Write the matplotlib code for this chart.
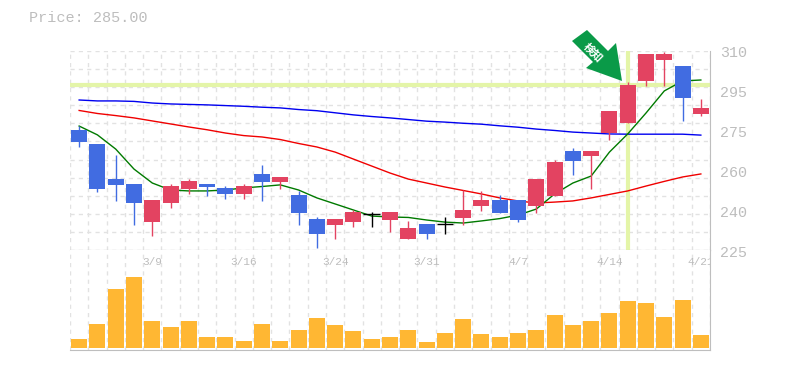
import matplotlib
matplotlib.use('Agg')
import matplotlib.pyplot as plt
from matplotlib.patches import Polygon

# valori
opens = [276.5, 270.5, 255.4, 253.3, 236.9, 245.1, 251.1, 253.3, 251.6, 249.0, 257.6, 254.1, 248.5,
         238.2, 235.7, 236.9, 240.3, 237.8, 229.6, 236.1, 236.0, 238.7, 243.8, 246.4, 246.4,
         243.8, 248.1, 267.5, 265.3, 275.2, 279.5, 297.6, 306.6, 304.0, 283.4]
closes = [271.3, 251.1, 252.9, 245.1, 246.4, 252.4, 254.6, 252.0, 249.0, 252.4, 254.1, 256.3, 240.8,
          231.8, 238.2, 241.2, 240.3, 241.2, 234.4, 231.8, 236.0, 242.1, 246.4, 240.8, 237.8,
          255.4, 262.7, 263.2, 267.5, 284.7, 295.9, 309.2, 309.2, 290.3, 286.0]
highs = [278.2, 270.5, 265.8, 253.3, 246.4, 253.3, 255.4, 253.3, 252.4, 253.3, 261.4, 256.3, 250.3,
         239.1, 238.2, 242.1, 241.2, 241.2, 237.4, 236.1, 239.1, 250.7, 250.3, 248.5, 246.4,
         255.4, 263.6, 268.8, 267.5, 284.7, 297.1, 309.2, 310.0, 304.0, 289.8]
lows = [269.2, 249.8, 246.0, 235.7, 230.9, 243.0, 249.0, 248.1, 246.8, 246.8, 246.0, 251.1, 235.7,
        225.8, 229.6, 234.8, 234.8, 232.6, 229.6, 229.6, 231.8, 235.7, 241.7, 240.8, 236.9,
        240.8, 248.1, 257.2, 251.1, 272.2, 279.5, 295.4, 295.4, 280.4, 282.5]

ma_short = [278.2, 274.4, 268.3, 259.7, 253.7, 250.7, 250.3, 250.3, 250.7, 251.6, 252.2, 252.9, 250.7,
            247.3, 244.7, 242.1, 239.5, 239.1, 238.9, 237.8, 236.9, 236.5, 237.4, 238.4, 239.9,
            242.5, 249.0, 253.7, 256.7, 267.0, 274.8, 283.8, 293.3, 297.6, 298.0]
ma_mid = [284.9, 283.6, 282.7, 281.7, 280.4, 279.1, 277.8, 276.6, 275.2, 274.1, 273.5, 272.4, 270.7,
          269.2, 267.0, 264.0, 261.0, 258.0, 255.4, 253.7, 252.0, 250.5, 249.0, 247.3, 246.0,
          245.1, 245.5, 246.0, 247.3, 248.8, 250.3, 252.4, 254.4, 256.3, 257.6]
ma_long = [289.4, 289.0, 289.0, 288.8, 288.1, 287.7, 287.5, 287.3, 287.0, 286.7, 286.3, 286.0, 285.3,
           284.8, 283.9, 283.0, 282.3, 281.7, 281.0, 280.3, 279.9, 279.4, 279.0, 278.3, 277.7,
           276.9, 276.3, 275.6, 275.2, 274.8, 274.7, 274.7, 274.7, 274.7, 274.3]
volumes = [9, 24, 59, 71, 27, 21, 27, 11, 11, 7, 24, 7, 18, 30, 23, 17, 9, 11, 18, 6, 15, 29, 14, 11, 15,
           18, 33, 23, 27, 35, 47, 45, 31, 48, 13]

date_pos = [4, 9, 14, 19, 24, 29, 34]
date_labels = ['3/9', '3/16', '3/24', '3/31', '4/7', '4/14', '4/21']
price_ticks = [310.5, 293.3, 276.1, 258.9, 241.7, 224.5]
price_labels = ['310', '295', '275', '260', '240', '225']
signal_price = 295.85
signal_index = 30
last_price = 285.00

UP = '#E34361'
DOWN = '#416CE1'
GRID = '#E2E2E2'
FRAME = '#BEBEBE'
TEXT = '#BDBDBD'
PALE = '#E4F5A8'
W, H = 785, 370

plt.rcParams['font.family'] = ['Liberation Mono', 'DejaVu Sans Mono']
fig = plt.figure(figsize=(W / 100, H / 100), dpi=100)
ax = fig.add_axes([70 / W, 1 - 250 / H, 640 / W, 199 / H])
ax_vol = fig.add_axes([70 / W, 1 - 350 / H, 640 / W, 100 / H])

for a in (ax, ax_vol):
    a.set_xlim(-0.5, 34.5)
    a.set_xticks([i + 0.5 for i in range(-1, 35)])
    a.tick_params(length=0, labelbottom=False, labelleft=False)
    a.grid(True, axis='x', color=GRID, linestyle=(0, (3, 3)), linewidth=1)
    a.set_axisbelow(True)
    a.spines['left'].set_visible(False)
    a.spines['top'].set_visible(False)
    a.spines['right'].set_color(FRAME)
    a.spines['bottom'].set_color(FRAME)

ax.set_ylim(224.9, 310.47)
ax.set_yticks([224.9 + 85.57 * k / 11 for k in range(12)])
ax.grid(True, axis='y', color=GRID, linestyle=(0, (3, 3)), linewidth=1)

# righe del segnale
ax.axhline(signal_price, color=PALE, linewidth=3, zorder=1)
ax.axvline(signal_index, color=PALE, linewidth=3, zorder=1)

# medie mobili
x = list(range(len(closes)))
ax.plot(x, ma_long, color='#0000F0', linewidth=1, zorder=2)
ax.plot(x, ma_mid, color='#F00000', linewidth=1, zorder=2)
ax.plot(x, ma_short, color='#007A00', linewidth=1, zorder=2)

# candele
for i in x:
    if opens[i] == closes[i]:
        color = 'black'
    elif closes[i] > opens[i]:
        color = UP
    else:
        color = DOWN
    ax.vlines(i, lows[i], highs[i], color=color, linewidth=1, zorder=3)
    if color == 'black':
        ax.hlines(opens[i], i - 0.45, i + 0.45, color=color, linewidth=1, zorder=3)
    else:
        ax.bar(i, abs(closes[i] - opens[i]), bottom=min(opens[i], closes[i]), width=0.875,
               color=color, zorder=3)

ax_vol.set_ylim(-2, 98)
ax_vol.bar(x, volumes, width=0.875, color='#FFB733', zorder=3)
for pos, label in zip(date_pos, date_labels):
    ax_vol.text(pos, 86, label, color=TEXT, fontsize=8, ha='center', va='center', clip_on=True, zorder=4)

# etichette a destra
for value, label in zip(price_ticks, price_labels):
    ax.annotate(label, (1, value), xycoords=ax.get_yaxis_transform(), xytext=(10, -2),
                textcoords='offset pixels', color=TEXT, fontsize=10.8, ha='left', va='center',
                annotation_clip=False)

fig.text(29 / W, 1 - 18 / H, 'Price: %.2f' % last_price, color=TEXT, fontsize=10.9, ha='left', va='center')

# freccia del segnale
arrow = [(587, 30), (572, 41), (593, 62), (586, 68), (622, 81), (616, 43), (608, 51)]
fig.add_artist(Polygon([(px / W, 1 - py / H) for px, py in arrow], closed=True, facecolor='#0A9A48',
                       edgecolor='none', transform=fig.transFigure, zorder=5))
fig.text(593 / W, 1 - 52 / H, '検知', color='white', fontsize=8, fontweight='bold', rotation=-45,
         rotation_mode='anchor', ha='center', va='center', family=['Noto Sans CJK JP', 'DejaVu Sans'], zorder=6)

plt.savefig('out.png', dpi=100)
plt.close()
